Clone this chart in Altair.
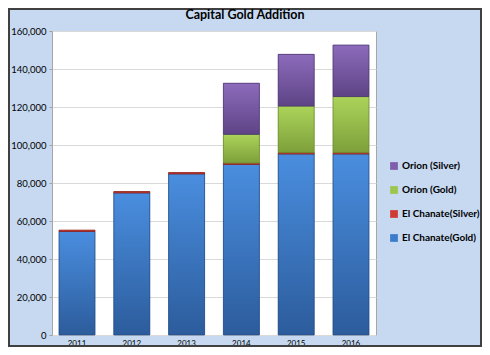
import altair as alt
import pandas as pd

years = ["2011", "2012", "2013", "2014", "2015", "2016"]
series = ["El Chanate(Gold)", "El Chanate(Silver)", "Orion (Gold)", "Orion (Silver)"]
el_chanate_gold = [54500, 74800, 84800, 89800, 95300, 95300]
el_chanate_silver = [700, 700, 700, 700, 700, 700]
orion_gold = [0, 0, 0, 15100, 24500, 29500]
orion_silver = [0, 0, 0, 26900, 27200, 27100]
y_ticks = [0, 20000, 40000, 60000, 80000, 100000, 120000, 140000, 160000]
title_text = ["Capital Gold Addition"]

legend_order = ["Orion (Silver)", "Orion (Gold)", "El Chanate(Silver)", "El Chanate(Gold)"]
solid = ["#7f5fa9", "#9dc64f", "#cf3b33", "#3b7ccc"]
grads = {
    "El Chanate(Gold)": ("#4a8edf", "#2c5c9c", "#244e86"),
    "El Chanate(Silver)": ("#e0504a", "#c0352e", "#8e2520"),
    "Orion (Gold)": ("#abd45a", "#7e9f3a", "#6a8a2c"),
    "Orion (Silver)": ("#8c6bbb", "#5e4486", "#4e3872"),
}

rows = []
for i, y in enumerate(years):
    for k, (s, vals) in enumerate(zip(series, [el_chanate_gold, el_chanate_silver, orion_gold, orion_silver])):
        rows.append({"year": y, "series": s, "value": vals[i], "order": k})
df = pd.DataFrame(rows)

W, H = 324, 304
PL, PT, PR, PB = 44, 23, 106, 12

xaxis = alt.Axis(labelAngle=0, labelFontSize=8, labelFont="Lato", labelColor="#000",
                 ticks=False, domain=False, labelPadding=4, grid=False)
yaxis = alt.Axis(values=y_ticks, format=",d", labelFontSize=9.5, labelFont="Lato",
                 labelColor="#000", tickSize=3, tickColor="#a0a0a0", domain=False,
                 gridColor="#d9d9d9", labelPadding=3, labelOverlap=False)
xscale = alt.Scale(paddingInner=0.343, paddingOuter=0.128)
yscale = alt.Scale(domain=[0, 160000], nice=False)

base = alt.Chart(df).transform_filter("datum.value > 0").transform_stack(
    stack="value", groupby=["year"], as_=["y0", "y1"],
    sort=[alt.SortField("order", order="ascending")])

solid_layer = base.mark_bar().encode(
    x=alt.X("year:N", title=None, scale=xscale, axis=xaxis),
    y=alt.Y("y1:Q", title=None, scale=yscale, axis=yaxis),
    y2="y0:Q",
    color=alt.Color("series:N", title=None,
                    scale=alt.Scale(domain=legend_order, range=solid),
                    legend=alt.Legend(orient="none", legendX=W + 13, legendY=130,
                                      symbolType="square", symbolSize=60, symbolStrokeWidth=0,
                                      labelFont="Lato", labelFontSize=10, labelFontWeight="bold",
                                      labelColor="#000", rowPadding=14, labelOffset=3,
                                      labelLimit=200)),
)

layers = [solid_layer]
for s in series:
    top, mid, edge = grads[s]
    g = alt.Gradient(gradient="linear", x1=0, y1=0, x2=0, y2=1,
                     stops=[alt.GradientStop(color=top, offset=0),
                            alt.GradientStop(color=mid, offset=1)])
    layers.append(
        base.transform_filter(alt.datum.series == s).mark_bar(
            fill=g, stroke=edge, strokeWidth=0.8).encode(
            x=alt.X("year:N", title=None, scale=xscale, axis=xaxis),
            y=alt.Y("y1:Q", title=None, scale=yscale, axis=yaxis), y2="y0:Q")
    )

frame = alt.Chart(pd.DataFrame({"a": [0]})).mark_rect(
    fill="transparent", stroke="#404040", strokeWidth=2).encode(
    x=alt.value(-PL + 1), x2=alt.value(W + PR - 1),
    y=alt.value(-PT + 1), y2=alt.value(H + PB - 1))
layers.append(frame)

title = alt.Chart(pd.DataFrame({"t": title_text})).mark_text(
    font="Lato", fontSize=12.5, fontWeight="bold", color="#000", baseline="middle", align="center"
).encode(text="t:N", x=alt.value(193), y=alt.value(-16))
layers.append(title)

chart = alt.layer(*layers).properties(
    width=W, height=H,
    autosize=alt.AutoSizeParams(type="none"),
    padding={"left": PL, "top": PT, "right": PR, "bottom": PB},
    background="#c6d9f0",
).configure_view(fill="white", stroke="#a6a6a6", strokeWidth=1)

chart.save("out.html", embed_options={"renderer": "svg", "actions": False})
